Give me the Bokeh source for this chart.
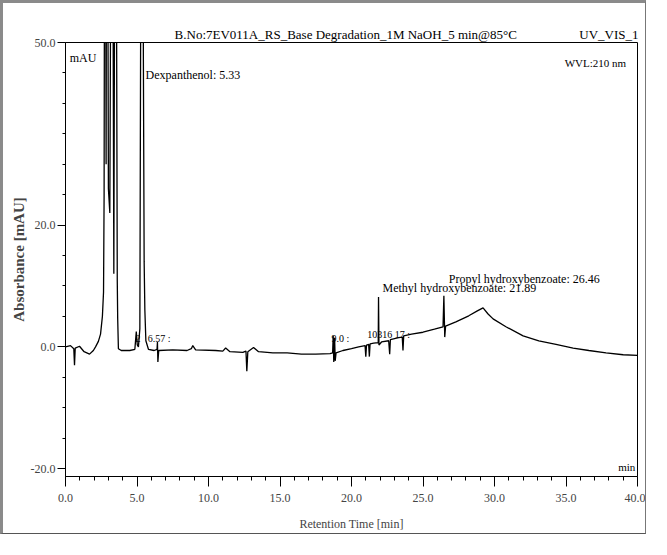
from bokeh.plotting import figure
from bokeh.models import (Range1d, FixedTicker, Label, ColumnDataSource,
                          PrintfTickFormatter, LinearAxis)
from bokeh.embed import file_html
from bokeh.resources import INLINE

# ---- chromatogram trace (retention time [min], absorbance [mAU]) ----
time_min = [
    0.00, 0.35, 0.58, 0.63, 0.68, 0.98, 1.30, 1.68, 1.95, 2.10,
    2.30, 2.45, 2.58, 2.66, 2.70, 2.76, 2.84, 2.90, 3.00, 3.10,
    3.25, 3.38, 3.50, 3.62, 3.65, 3.70, 3.90, 4.50, 4.85, 4.95,
    5.02, 5.10, 5.20, 5.33, 5.50, 5.55, 5.62, 5.80, 6.20, 6.40,
    6.43, 6.46, 6.52, 7.50, 8.50, 8.80, 8.90, 9.10, 10.5, 11.0,
    11.2, 11.5, 12.4, 12.62, 12.68, 12.75, 13.15, 13.5, 14.5, 15.5,
    16.5, 17.5, 18.5, 18.68, 18.72, 18.76, 18.82, 18.86, 18.92, 19.4,
    20.0, 20.5, 20.95, 21.00, 21.05, 21.20, 21.25, 21.30, 21.55, 21.87,
    21.89, 21.92, 22.10, 22.60, 22.67, 22.72, 23.30, 23.55, 23.60, 23.65,
    24.20, 25.00, 25.80, 26.40, 26.46, 26.52, 26.58, 27.30, 28.20, 28.80,
    29.20, 29.55, 29.90, 30.80, 32.00, 33.10, 34.30, 35.50, 36.60, 37.80,
    39.00, 40.00,
]
absorbance = [
    0.0, 0.2, -0.3, -3.0, -0.2, 0.1, -0.8, -1.2, -0.6, 0.0,
    0.9, 2.1, 5.0, 9.0, 25.0, 120.0, 30.0, 120.0, 26.0, 22.0,
    120.0, 12.0, 120.0, 10.9, 4.6, -0.3, -0.6, -0.6, -0.4, 2.5,
    0.3, 0.0, 3.0, 120.0, 14.0, 6.0, 1.0, -0.4, -0.6, -0.4,
    0.8, -2.5, -0.6, -0.5, -0.6, -0.3, 0.2, -0.5, -0.6, -0.7,
    -0.2, -0.8, -0.9, -0.7, -4.0, -0.8, -0.1, -0.8, -1.0, -1.0,
    -1.2, -1.2, -1.1, -1.0, 1.8, -2.5, 1.5, -2.3, -1.0, -0.6,
    -0.3, 0.0, 0.2, -1.6, 0.3, 0.4, -1.6, 0.5, 0.6, 0.7,
    8.2, 0.3, 0.8, 1.0, -1.2, 1.2, 1.5, 1.6, -0.6, 1.8,
    2.1, 2.4, 2.9, 3.3, 8.4, 1.6, 3.4, 4.1, 5.1, 5.9,
    6.4, 5.4, 4.6, 3.3, 1.8, 1.0, 0.4, -0.2, -0.6, -1.0,
    -1.3, -1.4,
]

# ---- axes ----
x_ticks = [0, 5, 10, 15, 20, 25, 30, 35, 40]
x_minor_ticks = [1, 2, 3, 4, 6, 7, 8, 9, 11, 12, 13, 14, 16, 17, 18, 19,
                 21, 22, 23, 24, 26, 27, 28, 29, 31, 32, 33, 34, 36, 37, 38, 39]
y_ticks = [-20, 0, 20, 50]
y_minor_ticks = [-15, -10, -5, 5, 10, 15, 25, 30, 35, 40, 45]

# ---- texts ----
title_text = "B.No:7EV011A_RS_Base Degradation_1M NaOH_5 min@85°C"
channel_text = "UV_VIS_1"
header_texts = [title_text, channel_text]
header_t = [19.6, 38.0]          # centres of the header texts on the time axis
wavelength_text = "WVL:210 nm"
unit_text = "mAU"
x_title = "Retention Time [min]"
y_title = "Absorbance [mAU]"
peak_names = ["Dexpanthenol: 5.33", "Methyl hydroxybenzoate: 21.89",
              "Propyl hydroxybenzoate: 26.46"]
peak_label_t = [5.6, 22.17, 26.8]
peak_label_y = [44.7, 9.6, 11.2]
minor_peak_names = ["2", "6.57 :", "9.0 :", "10316 17 :"]
minor_peak_t = [4.9, 5.75, 18.6, 21.1]
minor_peak_y = [1.4, 1.4, 1.3, 2.1]

FONT = "Liberation Serif"

p = figure(width=646, height=534, output_backend="svg", toolbar_location=None,
           x_range=Range1d(0, 40), y_range=Range1d(-21.3, 50),
           min_border_left=62, min_border_right=12, min_border_top=39,
           min_border_bottom=61)
p.styles = {"border-left": "3px solid #8a8a8a", "border-top": "3px solid #8a8a8a",
            "border-right": "1px solid #777777", "border-bottom": "1px solid #555555"}
p.grid.visible = False
p.outline_line_color = "black"
p.outline_line_width = 1
p.background_fill_color = "white"
p.border_fill_color = "white"

src = ColumnDataSource(dict(t=time_min, a=absorbance))
p.line("t", "a", source=src, line_color="black", line_width=1.3)

xa = p.xaxis[0]
xa.ticker = FixedTicker(ticks=x_ticks, minor_ticks=x_minor_ticks)
xa.formatter = PrintfTickFormatter(format="%.1f")
xa.major_tick_out = 10
xa.major_tick_in = 0
xa.minor_tick_out = 4
xa.minor_tick_in = 0
xa.major_label_standoff = 7
xa.major_label_text_font = FONT
xa.major_label_text_font_size = "12px"
xa.axis_label = x_title
xa.axis_label_text_font = FONT
xa.axis_label_text_font_size = "12px"
xa.axis_label_text_font_style = "normal"
xa.axis_label_standoff = 12

ya = p.yaxis[0]
ya.ticker = FixedTicker(ticks=y_ticks, minor_ticks=y_minor_ticks)
ya.formatter = PrintfTickFormatter(format="%.1f")
ya.major_tick_out = 8
ya.major_tick_in = 0
ya.minor_tick_out = 3
ya.minor_tick_in = 0
ya.major_label_standoff = 2
ya.major_label_text_font = FONT
ya.major_label_text_font_size = "12px"
ya.axis_label = y_title
ya.axis_label_text_font = FONT
ya.axis_label_text_font_size = "15px"
ya.axis_label_text_font_style = "bold"
ya.axis_label_standoff = 1

# header line above the frame: run title and channel name
top = LinearAxis(ticker=FixedTicker(ticks=header_t, minor_ticks=[]),
                 major_label_overrides={t: s for t, s in zip(header_t, header_texts)},
                 axis_line_color=None, major_tick_line_color=None,
                 minor_tick_line_color=None, major_tick_out=0, major_tick_in=0,
                 major_label_standoff=1, major_label_text_font=FONT,
                 major_label_text_font_size="13px", major_label_text_color="black")
p.add_layout(top, "above")


def add_label(text, x, y, size="12px", align="left", baseline="middle"):
    p.add_layout(Label(x=x, y=y, text=text, text_font=FONT, text_font_size=size,
                       text_align=align, text_baseline=baseline, text_color="black"))


add_label(wavelength_text, 39.2, 46.6, size="11px", align="right")
add_label(unit_text, 0.3, 47.4, size="12px")
add_label("min", 39.85, -19.8, size="11px", align="right")

for name, t, a in zip(peak_names, peak_label_t, peak_label_y):
    add_label(name, t, a, size="12px")
for name, t, a in zip(minor_peak_names, minor_peak_t, minor_peak_y):
    add_label(name, t, a, size="10px")

open("out.html", "w").write(file_html(p, INLINE))
